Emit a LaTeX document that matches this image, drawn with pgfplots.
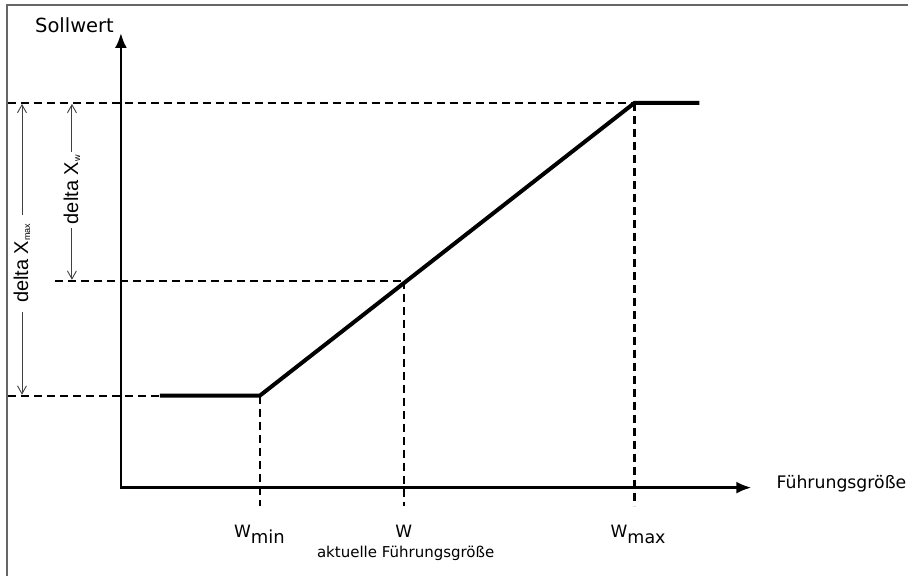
\documentclass[border=0pt]{standalone}
\usepackage{fontspec}
\setmainfont{DejaVu Sans}
\newfontfamily\arialf{Liberation Sans}
\usepackage{pgfplots}
\pgfplotsset{compat=1.18}
\usetikzlibrary{arrows.meta}
\newcommand{\fs}[1]{\fontsize{#1}{#1}\selectfont}
\begin{document}
\begin{tikzpicture}
\begin{axis}[x=1pt, y=1pt, y dir=reverse, xmin=0, xmax=909, ymin=0, ymax=576,
  hide axis, scale only axis, clip=false,
  dashedl/.style={black, line width=2.2pt, dash pattern=on 8pt off 5pt},
  annot/.style={black!75, line width=0.9pt, -{Straight Barb[length=8pt,width=9pt]}}]
\path (axis cs:0,0) rectangle (axis cs:909,576);
% frame
\addplot[black!60, line width=1.5pt] coordinates {(7,576) (7,5) (909,5)};
% dashed guides
\addplot[dashedl] coordinates {(8,103) (635,103)};
\addplot[dashedl] coordinates {(8,396) (160,396)};
\addplot[dashedl] coordinates {(55,281) (404,281)};
\addplot[dashedl] coordinates {(260,396) (260,506)};
\addplot[dashedl] coordinates {(404,281) (404,506)};
\addplot[dashedl] coordinates {(635,103) (635,506)};
% axes
\addplot[black, line width=2.7pt, -{Latex[length=15pt,width=12pt]}] coordinates {(121,489.5) (121,33)};
\addplot[black, line width=2.7pt, -{Latex[length=15pt,width=12pt]}] coordinates {(120,488) (752,488)};
% characteristic
\addplot[black, line width=4pt, line join=miter] coordinates {(160,396) (260,396) (635,103) (700,103)};
% annotations
\addplot[annot] coordinates {(22,215) (22,104)};
\addplot[annot] coordinates {(22,312) (22,395)};
\addplot[annot] coordinates {(72,152) (72,104)};
\addplot[annot] coordinates {(72,228) (72,280)};
\node[rotate=90, inner sep=0pt] at (axis cs:22,263.5) {\arialf\fs{20}delta X\raisebox{-2pt}{\fs{9}max}};
\node[rotate=90, inner sep=0pt] at (axis cs:72,190) {\arialf\fs{20}delta X\raisebox{-2pt}{\fs{9}w}};
% labels
\node[anchor=base west, inner sep=0pt] at (axis cs:35,33) {\fs{19.5}Sollwert};
\node[anchor=base west, inner sep=0pt] at (axis cs:777,489) {\fs{17.3}Führungsgröße};
\node[anchor=base west, inner sep=0pt] at (axis cs:234,538) {\fs{17}W\raisebox{-6pt}{\fs{18}min}};
\node[anchor=base, inner sep=0pt] at (axis cs:404,538) {\fs{17}W};
\node[anchor=base, inner sep=0pt] at (axis cs:406,558) {\fs{15}aktuelle Führungsgröße};
\node[anchor=base west, inner sep=0pt] at (axis cs:611,538) {\fs{17}W\raisebox{-6pt}{\fs{17.5}max}};
\end{axis}
\end{tikzpicture}
\end{document}
